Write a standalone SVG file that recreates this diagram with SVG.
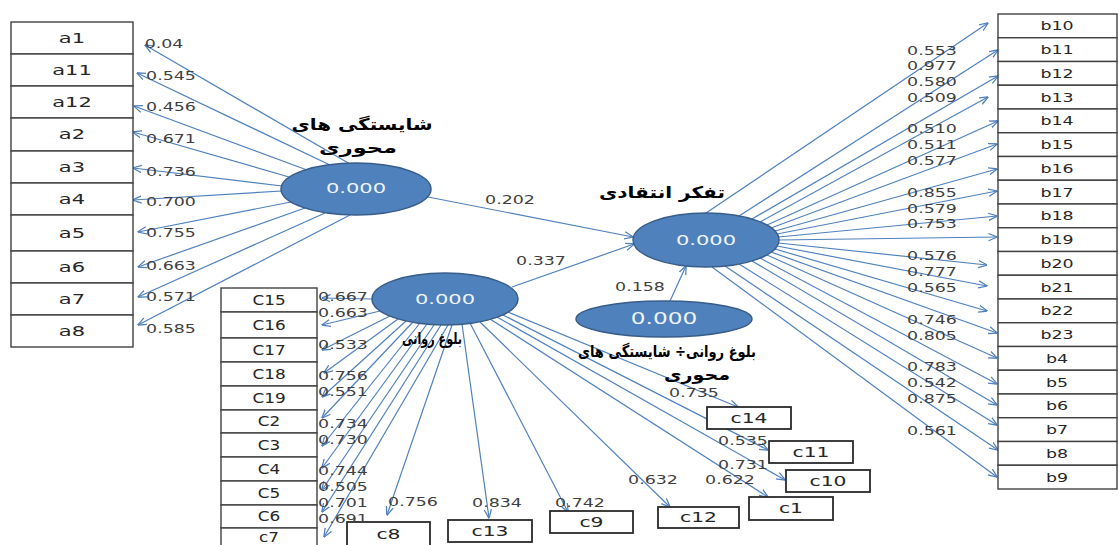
<svg xmlns="http://www.w3.org/2000/svg" width="1119" height="545" viewBox="0 0 1119 545">
<style>
.bg{fill:#ffffff}
.box{fill:#ffffff;stroke:#404040;stroke-width:1.4}
.cbox{fill:#ffffff;stroke:#2a2a2a;stroke-width:1.8}
.ell{fill:#4f81bd;stroke:#385d8a;stroke-width:1.5}
.ln{stroke:#4f81bd;stroke-width:1.2;fill:none;marker-end:url(#ah)}
text{font-family:"DejaVu Sans",sans-serif;text-anchor:middle;transform-box:fill-box;transform-origin:center}
.n{font-size:12px;fill:#404040;transform:scaleX(1.45)}
.la{font-size:14.5px;fill:#262626;transform:scaleX(1.45)}
.lb{font-size:12px;fill:#262626;transform:scaleX(1.45)}
.lc{font-size:13.5px;fill:#262626;transform:scaleX(1.25)}
.ld{font-size:14.5px;fill:#262626;transform:scaleX(1.4)}
.v{font-size:14px;fill:#eef3fa;transform:scaleX(1.5)}
.v2{font-size:15px;fill:#eef3fa;transform:scaleX(1.55)}
.ar{font-size:16px;font-weight:bold;fill:#000000;transform:none}
</style>
<defs>
<marker id="ah" viewBox="0 0 10 10" refX="9.5" refY="5" markerWidth="9" markerHeight="9" markerUnits="userSpaceOnUse" orient="auto">
<path d="M0,1 L10,5 L0,9" fill="none" stroke="#4f81bd" stroke-width="1.4"/>
</marker>
</defs>
<rect class="bg" x="0" y="0" width="1119" height="545"/>

<g id="connectors">
<line class="ln" x1="350" y1="164" x2="145" y2="45"/>
<line class="ln" x1="330" y1="165" x2="137" y2="73"/>
<line class="ln" x1="307" y1="170" x2="134" y2="106"/>
<line class="ln" x1="289" y1="177" x2="133" y2="132"/>
<line class="ln" x1="282" y1="186" x2="133" y2="168"/>
<line class="ln" x1="282" y1="191" x2="133" y2="200"/>
<line class="ln" x1="291" y1="202" x2="138" y2="232"/>
<line class="ln" x1="305" y1="208" x2="138" y2="267"/>
<line class="ln" x1="325" y1="213" x2="138" y2="297"/>
<line class="ln" x1="350" y1="215" x2="138" y2="325"/>
<line class="ln" x1="706" y1="213" x2="988" y2="23"/>
<line class="ln" x1="739" y1="216" x2="998" y2="50"/>
<line class="ln" x1="752" y1="219" x2="998" y2="76"/>
<line class="ln" x1="760" y1="222" x2="988" y2="97"/>
<line class="ln" x1="767" y1="225" x2="998" y2="121"/>
<line class="ln" x1="771" y1="228" x2="997" y2="144"/>
<line class="ln" x1="775" y1="231" x2="997" y2="169"/>
<line class="ln" x1="777" y1="234" x2="997" y2="191"/>
<line class="ln" x1="778.5" y1="237" x2="997" y2="216"/>
<line class="ln" x1="779" y1="240" x2="997" y2="237"/>
<line class="ln" x1="778.5" y1="243" x2="987" y2="265"/>
<line class="ln" x1="777" y1="246" x2="987" y2="286"/>
<line class="ln" x1="775" y1="249" x2="987" y2="311"/>
<line class="ln" x1="771" y1="252" x2="997" y2="333"/>
<line class="ln" x1="767" y1="255" x2="997" y2="358"/>
<line class="ln" x1="760" y1="258" x2="997" y2="384"/>
<line class="ln" x1="752" y1="261" x2="997" y2="405"/>
<line class="ln" x1="739" y1="264" x2="997" y2="425"/>
<line class="ln" x1="725" y1="266" x2="998" y2="450"/>
<line class="ln" x1="712" y1="267" x2="997" y2="477"/>
<line class="ln" x1="372" y1="299" x2="322" y2="298"/>
<line class="ln" x1="380" y1="311" x2="322" y2="325"/>
<line class="ln" x1="390" y1="316" x2="322" y2="350"/>
<line class="ln" x1="398" y1="319" x2="324" y2="373"/>
<line class="ln" x1="406" y1="321" x2="322" y2="397"/>
<line class="ln" x1="413" y1="322" x2="322" y2="418"/>
<line class="ln" x1="420" y1="323" x2="322" y2="446"/>
<line class="ln" x1="427" y1="324" x2="322" y2="468"/>
<line class="ln" x1="434" y1="325" x2="322" y2="490"/>
<line class="ln" x1="441" y1="325" x2="322" y2="512"/>
<line class="ln" x1="448" y1="325" x2="324" y2="537"/>
<line class="ln" x1="452" y1="325" x2="387" y2="515"/>
<line class="ln" x1="462" y1="324" x2="489" y2="518"/>
<line class="ln" x1="470" y1="323" x2="568" y2="512"/>
<line class="ln" x1="480" y1="322" x2="670" y2="507"/>
<line class="ln" x1="490" y1="319" x2="768" y2="497"/>
<line class="ln" x1="497" y1="317" x2="785" y2="480"/>
<line class="ln" x1="503" y1="315" x2="768" y2="450"/>
<line class="ln" x1="508" y1="312" x2="738" y2="407"/>
<line class="ln" x1="428" y1="197" x2="633" y2="237"/>
<line class="ln" x1="512" y1="287" x2="634" y2="244"/>
<line class="ln" x1="670" y1="301" x2="686" y2="266"/>
</g>

<g id="node-a">
<rect class="box" x="11" y="22" width="122" height="32"/>
<rect class="box" x="11" y="54" width="122" height="32"/>
<rect class="box" x="11" y="86" width="122" height="32"/>
<rect class="box" x="11" y="118" width="122" height="33"/>
<rect class="box" x="11" y="151" width="122" height="32"/>
<rect class="box" x="11" y="183" width="122" height="32"/>
<rect class="box" x="11" y="215" width="122" height="36"/>
<rect class="box" x="11" y="251" width="122" height="32"/>
<rect class="box" x="11" y="283" width="122" height="32"/>
<rect class="box" x="11" y="315" width="122" height="32"/>
<text class="la" x="72" y="43">a1</text>
<text class="la" x="72" y="75">a11</text>
<text class="la" x="72" y="107">a12</text>
<text class="la" x="72" y="139.5">a2</text>
<text class="la" x="72" y="172">a3</text>
<text class="la" x="72" y="204">a4</text>
<text class="la" x="72" y="238">a5</text>
<text class="la" x="72" y="272">a6</text>
<text class="la" x="72" y="304">a7</text>
<text class="la" x="72" y="336">a8</text>
</g>

<g id="node-b">
<rect class="box" x="998" y="14" width="119" height="23.75"/>
<rect class="box" x="998" y="37.75" width="119" height="23.75"/>
<rect class="box" x="998" y="61.5" width="119" height="23.75"/>
<rect class="box" x="998" y="85.25" width="119" height="23.75"/>
<rect class="box" x="998" y="109" width="119" height="23.75"/>
<rect class="box" x="998" y="132.75" width="119" height="23.75"/>
<rect class="box" x="998" y="156.5" width="119" height="23.75"/>
<rect class="box" x="998" y="180.25" width="119" height="23.75"/>
<rect class="box" x="998" y="204" width="119" height="23.75"/>
<rect class="box" x="998" y="227.75" width="119" height="23.75"/>
<rect class="box" x="998" y="251.5" width="119" height="23.75"/>
<rect class="box" x="998" y="275.25" width="119" height="23.75"/>
<rect class="box" x="998" y="299" width="119" height="23.75"/>
<rect class="box" x="998" y="322.75" width="119" height="23.75"/>
<rect class="box" x="998" y="346.5" width="119" height="23.75"/>
<rect class="box" x="998" y="370.25" width="119" height="23.75"/>
<rect class="box" x="998" y="394" width="119" height="23.75"/>
<rect class="box" x="998" y="417.75" width="119" height="23.75"/>
<rect class="box" x="998" y="441.5" width="119" height="23.75"/>
<rect class="box" x="998" y="465.25" width="119" height="23.75"/>
<text class="lb" x="1057" y="30.4">b10</text>
<text class="lb" x="1057" y="54.2">b11</text>
<text class="lb" x="1057" y="77.9">b12</text>
<text class="lb" x="1057" y="101.7">b13</text>
<text class="lb" x="1057" y="125.4">b14</text>
<text class="lb" x="1057" y="149.2">b15</text>
<text class="lb" x="1057" y="172.9">b16</text>
<text class="lb" x="1057" y="196.7">b17</text>
<text class="lb" x="1057" y="220.4">b18</text>
<text class="lb" x="1057" y="244.2">b19</text>
<text class="lb" x="1057" y="267.9">b20</text>
<text class="lb" x="1057" y="291.7">b21</text>
<text class="lb" x="1057" y="315.4">b22</text>
<text class="lb" x="1057" y="339.2">b23</text>
<text class="lb" x="1057" y="362.9">b4</text>
<text class="lb" x="1057" y="386.7">b5</text>
<text class="lb" x="1057" y="410.4">b6</text>
<text class="lb" x="1057" y="434.2">b7</text>
<text class="lb" x="1057" y="457.9">b8</text>
<text class="lb" x="1057" y="481.7">b9</text>
</g>

<g id="node-c-column">
<rect class="box" x="221" y="288" width="96" height="24"/>
<rect class="box" x="221" y="312" width="96" height="26"/>
<rect class="box" x="221" y="338" width="96" height="24"/>
<rect class="box" x="221" y="362" width="96" height="24"/>
<rect class="box" x="221" y="386" width="96" height="24"/>
<rect class="box" x="221" y="410" width="96" height="23"/>
<rect class="box" x="221" y="433" width="96" height="24"/>
<rect class="box" x="221" y="457" width="96" height="24"/>
<rect class="box" x="221" y="481" width="96" height="24"/>
<rect class="box" x="221" y="505" width="96" height="23"/>
<rect class="box" x="221" y="528" width="96" height="24"/>
<text class="lc" x="269" y="305">C15</text>
<text class="lc" x="269" y="330">C16</text>
<text class="lc" x="269" y="355">C17</text>
<text class="lc" x="269" y="379">C18</text>
<text class="lc" x="269" y="403">C19</text>
<text class="lc" x="269" y="426.5">C2</text>
<text class="lc" x="269" y="450">C3</text>
<text class="lc" x="269" y="474">C4</text>
<text class="lc" x="269" y="498">C5</text>
<text class="lc" x="269" y="521.5">C6</text>
<text class="lc" x="269" y="542">c7</text>
</g>

<g id="node-c8"><rect class="cbox" x="347" y="522" width="83" height="24"/><text class="ld" x="388.5" y="539">c8</text></g>
<g id="node-c13"><rect class="cbox" x="448" y="520" width="84" height="22"/><text class="ld" x="490" y="536">c13</text></g>
<g id="node-c9"><rect class="cbox" x="550" y="511" width="83" height="22"/><text class="ld" x="591.5" y="527">c9</text></g>
<g id="node-c12"><rect class="cbox" x="658" y="507" width="81" height="21"/><text class="ld" x="698.5" y="522.5">c12</text></g>
<g id="node-c1"><rect class="cbox" x="749" y="497" width="84" height="23"/><text class="ld" x="791" y="513.5">c1</text></g>
<g id="node-c10"><rect class="cbox" x="786" y="470" width="84" height="22"/><text class="ld" x="828" y="486">c10</text></g>
<g id="node-c11"><rect class="cbox" x="769" y="441" width="84" height="22"/><text class="ld" x="811" y="457">c11</text></g>
<g id="node-c14"><rect class="cbox" x="707" y="407" width="84" height="22"/><text class="ld" x="749" y="423">c14</text></g>

<g id="node-core-competencies">
<ellipse class="ell" cx="356" cy="189" rx="75" ry="26"/>
<text class="v" x="356" y="193.5">0.000</text>
<text class="ar" x="362" y="130" textLength="141" lengthAdjust="spacingAndGlyphs">شایستگی های</text>
<text class="ar" x="358" y="153" textLength="78" lengthAdjust="spacingAndGlyphs">محوری</text>
</g>

<g id="node-critical-thinking">
<ellipse class="ell" cx="706" cy="240" rx="73" ry="27"/>
<text class="v" x="706" y="245">0.000</text>
<text class="ar" x="662" y="198" textLength="126" lengthAdjust="spacingAndGlyphs">تفکر انتقادی</text>
</g>

<g id="node-psych-maturity">
<ellipse class="ell" cx="445" cy="299" rx="73" ry="26"/>
<text class="v" x="445" y="304">0.000</text>
<text class="ar" x="432" y="344" textLength="60" lengthAdjust="spacingAndGlyphs">بلوغ روانی</text>
</g>

<g id="node-interaction">
<ellipse class="ell" cx="664" cy="319" rx="88" ry="18"/>
<text class="v2" x="664" y="324.5">0.000</text>
<text class="ar" x="667" y="357" textLength="178" lengthAdjust="spacingAndGlyphs">بلوغ روانی÷ شایستگی های</text>
<text class="ar" x="697" y="380" textLength="66" lengthAdjust="spacingAndGlyphs">محوری</text>
</g>

<g id="loadings">
<text class="n" x="164" y="48">0.04</text>
<text class="n" x="171" y="80.5">0.545</text>
<text class="n" x="171" y="111.5">0.456</text>
<text class="n" x="171" y="143.5">0.671</text>
<text class="n" x="171" y="176.5">0.736</text>
<text class="n" x="171" y="206.5">0.700</text>
<text class="n" x="171" y="237.5">0.755</text>
<text class="n" x="171" y="270.5">0.663</text>
<text class="n" x="171" y="301.5">0.571</text>
<text class="n" x="171" y="333.5">0.585</text>
<text class="n" x="932" y="55.5">0.553</text>
<text class="n" x="932" y="70.5">0.977</text>
<text class="n" x="932" y="86.5">0.580</text>
<text class="n" x="932" y="102.5">0.509</text>
<text class="n" x="932" y="133.5">0.510</text>
<text class="n" x="932" y="149.5">0.511</text>
<text class="n" x="932" y="165.5">0.577</text>
<text class="n" x="932" y="197.5">0.855</text>
<text class="n" x="932" y="213.5">0.579</text>
<text class="n" x="932" y="228.5">0.753</text>
<text class="n" x="932" y="260.5">0.576</text>
<text class="n" x="932" y="276.5">0.777</text>
<text class="n" x="932" y="292.5">0.565</text>
<text class="n" x="932" y="324.5">0.746</text>
<text class="n" x="932" y="340.5">0.805</text>
<text class="n" x="932" y="371.5">0.783</text>
<text class="n" x="932" y="387.5">0.542</text>
<text class="n" x="932" y="403.5">0.875</text>
<text class="n" x="932" y="435.5">0.561</text>
<text class="n" x="343" y="301.5">0.667</text>
<text class="n" x="343" y="317.5">0.663</text>
<text class="n" x="343" y="349.5">0.533</text>
<text class="n" x="343" y="380.5">0.756</text>
<text class="n" x="343" y="396.5">0.551</text>
<text class="n" x="343" y="428.5">0.734</text>
<text class="n" x="343" y="444.5">0.730</text>
<text class="n" x="343" y="475.5">0.744</text>
<text class="n" x="343" y="491.5">0.505</text>
<text class="n" x="343" y="507.5">0.701</text>
<text class="n" x="343" y="523.5">0.691</text>
<text class="n" x="413" y="506.5">0.756</text>
<text class="n" x="497" y="507.5">0.834</text>
<text class="n" x="580" y="507.5">0.742</text>
<text class="n" x="653" y="484.5">0.632</text>
<text class="n" x="730" y="484.5">0.622</text>
<text class="n" x="743" y="469.5">0.731</text>
<text class="n" x="743" y="445.5">0.535</text>
<text class="n" x="694" y="397.5">0.735</text>
<text class="n" x="510" y="204.5">0.202</text>
<text class="n" x="541" y="265.5">0.337</text>
<text class="n" x="640" y="291.5">0.158</text>
</g>
</svg>
